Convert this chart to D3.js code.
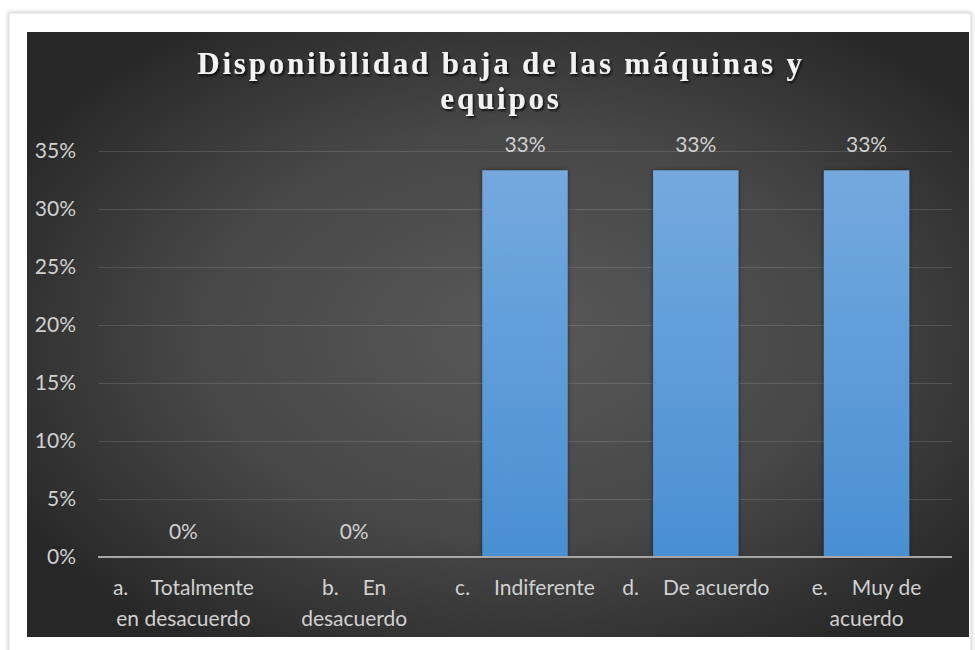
<!DOCTYPE html>
<html>
<head>
<meta charset="utf-8">
<script src="https://cdn.jsdelivr.net/npm/d3@7"></script>
<style>
  html, body { margin: 0; padding: 0; background: #ffffff; }
  svg { display: block; }
</style>
</head>
<body>
<svg id="chart" width="975" height="650"></svg>
<script>
// Survey item: "Disponibilidad baja de las máquinas y equipos"
const titleLines = ["Disponibilidad baja de las máquinas y", "equipos"];
const categories = [
  "a. Totalmente en desacuerdo",
  "b. En desacuerdo",
  "c. Indiferente",
  "d. De acuerdo",
  "e. Muy de acuerdo"
];
// letter + wrapped text lines for each category label
const categoryLetters = ["a.", "b.", "c.", "d.", "e."];
const categoryLines = [
  ["Totalmente", "en desacuerdo"],
  ["En", "desacuerdo"],
  ["Indiferente"],
  ["De acuerdo"],
  ["Muy de", "acuerdo"]
];
const values = [0, 0, 1 / 3, 1 / 3, 1 / 3];
const yTicks = [0, 0.05, 0.10, 0.15, 0.20, 0.25, 0.30, 0.35];

const W = 975, H = 650;
const svg = d3.select("#chart");
const defs = svg.append("defs");

// card shadow
const cardShadow = defs.append("filter").attr("id", "cardShadow")
  .attr("x", "-5%").attr("y", "-5%").attr("width", "110%").attr("height", "110%");
cardShadow.append("feDropShadow").attr("dx", 0).attr("dy", 0)
  .attr("stdDeviation", 2).attr("flood-color", "#000").attr("flood-opacity", 0.25);

// panel background: radial glow in the middle, dark corners
const bg = defs.append("radialGradient").attr("id", "panelBg")
  .attr("cx", "52%").attr("cy", "50%").attr("r", "62%");
bg.append("stop").attr("offset", "0%").attr("stop-color", "#585858");
bg.append("stop").attr("offset", "55%").attr("stop-color", "#474747");
bg.append("stop").attr("offset", "100%").attr("stop-color", "#272727");

// bar fill
const barGrad = defs.append("linearGradient").attr("id", "barFill")
  .attr("x1", 0).attr("y1", 0).attr("x2", 0).attr("y2", 1);
barGrad.append("stop").attr("offset", "0%").attr("stop-color", "#74a9de");
barGrad.append("stop").attr("offset", "100%").attr("stop-color", "#4a8fd3");

const barShadow = defs.append("filter").attr("id", "barShadow")
  .attr("x", "-20%").attr("y", "-10%").attr("width", "140%").attr("height", "120%");
barShadow.append("feDropShadow").attr("dx", 0).attr("dy", 0)
  .attr("stdDeviation", 2).attr("flood-color", "#000").attr("flood-opacity", 0.5);

const titleShadow = defs.append("filter").attr("id", "titleShadow")
  .attr("x", "-5%").attr("y", "-20%").attr("width", "110%").attr("height", "150%");
titleShadow.append("feDropShadow").attr("dx", 1.5).attr("dy", 2)
  .attr("stdDeviation", 1.2).attr("flood-color", "#000").attr("flood-opacity", 0.75);

// outer white card
svg.append("rect")
  .attr("x", 9).attr("y", 13).attr("width", 962).attr("height", 650)
  .attr("fill", "#ffffff").attr("stroke", "#d9d9d9").attr("stroke-width", 1)
  .attr("filter", "url(#cardShadow)");

// dark chart panel
svg.append("rect")
  .attr("x", 27).attr("y", 32).attr("width", 942).attr("height", 605)
  .attr("fill", "url(#panelBg)");

// title
const title = svg.append("text")
  .attr("text-anchor", "middle")
  .attr("font-family", "'Liberation Serif', 'Times New Roman', serif")
  .attr("font-weight", "bold")
  .attr("font-size", 31)
  .attr("letter-spacing", 2.8)
  .attr("fill", "#f2f2f2")
  .attr("filter", "url(#titleShadow)");
titleLines.forEach((t, i) => {
  title.append("tspan").attr("x", 501).attr("y", 74 + i * 35).text(t);
});

// scales
const x = d3.scaleBand()
  .domain(categories)
  .range([98, 952])
  .paddingInner(0.5)
  .paddingOuter(0.25);
const y = d3.scaleLinear().domain([0, 0.35]).range([557, 151]);
const pct = d3.format(".0%");

const labelFont = "Lato, 'Open Sans', sans-serif";
const textColor = "#d0d0d0";

// gridlines + y labels via axis
const yAxis = d3.axisLeft(y)
  .tickValues(yTicks)
  .tickFormat(pct)
  .tickSize(-(952 - 98))
  .tickPadding(22);
const gy = svg.append("g").attr("transform", "translate(98,0)").call(yAxis);
gy.select(".domain").remove();
gy.selectAll(".tick line")
  .attr("stroke", "#ffffff").attr("stroke-opacity", 0.13).attr("stroke-width", 1);
gy.selectAll(".tick text")
  .attr("font-family", labelFont).attr("font-size", 21)
  .attr("fill", textColor);
gy.selectAll(".tick").filter(d => d === 0).select("line").remove();

// bars
svg.append("g").selectAll("rect")
  .data(values)
  .join("rect")
  .attr("x", (d, i) => x(categories[i]))
  .attr("y", d => y(d))
  .attr("width", x.bandwidth())
  .attr("height", d => y(0) - y(d))
  .attr("fill", "url(#barFill)")
  .attr("filter", "url(#barShadow)");

// baseline
svg.append("line")
  .attr("x1", 98).attr("x2", 952)
  .attr("y1", y(0)).attr("y2", y(0))
  .attr("stroke", "#a6a6a6").attr("stroke-width", 2);

// value labels
svg.append("g").selectAll("text")
  .data(values)
  .join("text")
  .attr("x", (d, i) => x(categories[i]) + x.bandwidth() / 2)
  .attr("y", d => y(d) - 18)
  .attr("text-anchor", "middle")
  .attr("font-family", labelFont).attr("font-size", 21)
  .attr("fill", textColor)
  .text(d => pct(d));

// category labels (numbered list style, wrapped)
const cat = svg.append("g").selectAll("text")
  .data(categories)
  .join("text")
  .attr("text-anchor", "middle")
  .attr("font-family", labelFont).attr("font-size", 21)
  .attr("fill", textColor);
cat.each(function (d, i) {
  const cx = x(d) + x.bandwidth() / 2;
  const t = d3.select(this);
  const lines = categoryLines[i];
  const first = t.append("tspan").attr("x", cx).attr("y", 595);
  first.append("tspan").text(categoryLetters[i]);
  first.append("tspan").attr("dx", 24).text(lines[0]);
  if (lines[1]) {
    t.append("tspan").attr("x", cx).attr("y", 626).text(lines[1]);
  }
});
</script>
</body>
</html>
